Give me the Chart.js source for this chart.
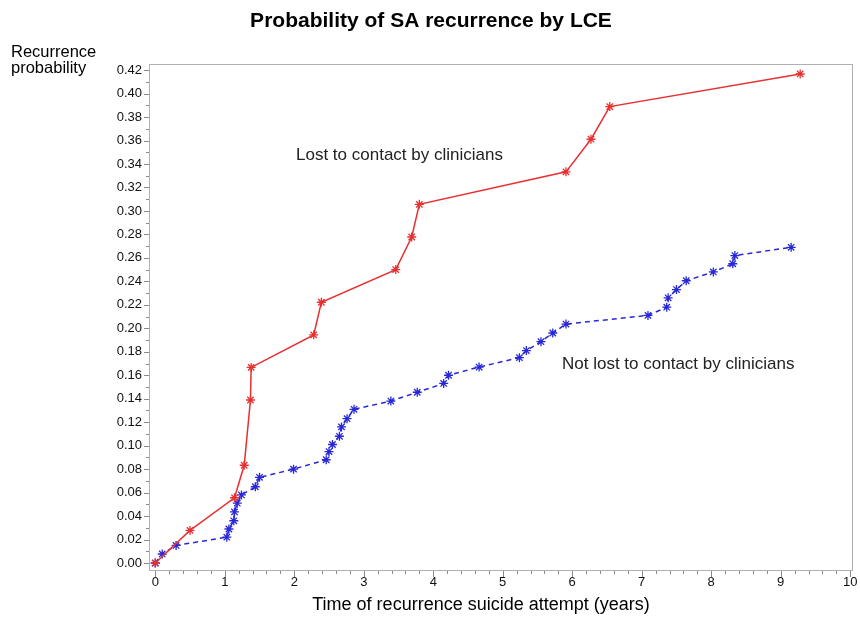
<!DOCTYPE html>
<html>
<head>
<meta charset="utf-8">
<title>Probability of SA recurrence by LCE</title>
<script src="https://cdn.jsdelivr.net/npm/chart.js@4/dist/chart.umd.min.js"></script>
<style>
	html, body { margin: 0; padding: 0; background: #fff; }
	#wrap { width: 860px; height: 636px; }
</style>
</head>
<body>
<div id="wrap"><canvas id="mycanvas"></canvas></div>
<script>
// time in years, probability of recurrence
var lostTime = [0, 0.50, 1.14, 1.28, 1.37, 1.38, 2.28, 2.39, 3.46, 3.69, 3.80, 5.91, 6.27, 6.54, 9.28];
var lostProb = [0, 0.0278, 0.0556, 0.0833, 0.1389, 0.1667, 0.1944, 0.2222, 0.2500, 0.2778, 0.3056, 0.3333, 0.3611, 0.3889, 0.4167];

var notLostTime = [0, 0.10, 0.30, 1.03, 1.06, 1.13, 1.14, 1.18, 1.24, 1.44, 1.50, 1.99, 2.46, 2.50, 2.55, 2.65, 2.68, 2.76, 2.86,
	3.39, 3.77, 4.15, 4.22, 4.66, 5.24, 5.34, 5.55, 5.72, 5.91, 7.09, 7.36, 7.38, 7.50, 7.64, 8.03, 8.31, 8.34, 9.15];
var notLostProb = [0, 0.0077, 0.015, 0.022, 0.029, 0.036, 0.0435, 0.051, 0.058, 0.065, 0.073, 0.080, 0.088, 0.095, 0.101, 0.108, 0.116, 0.123, 0.131,
	0.138, 0.1455, 0.153, 0.160, 0.167, 0.175, 0.181, 0.1886, 0.196, 0.2036, 0.211, 0.218, 0.226, 0.233, 0.2405, 0.248, 0.255, 0.262, 0.269];

var xTicks = [0, 1, 2, 3, 4, 5, 6, 7, 8, 9, 10];
var yTicks = [0, 0.02, 0.04, 0.06, 0.08, 0.10, 0.12, 0.14, 0.16, 0.18, 0.20, 0.22, 0.24, 0.26, 0.28, 0.30, 0.32, 0.34, 0.36, 0.38, 0.40, 0.42];

var toPoints = function(xs, ys) {
	var pts = [];
	for (var i in xs) {
		pts.push({x: xs[i], y: ys[i]});
	}
	return pts;
};

var FONT = "'Liberation Sans', Arial, sans-serif";

// frame, minor ticks and the text labels
var decor = {
	id: 'decor',
	afterDraw: function(chart) {
		var ctx = chart.ctx;
		var a = chart.chartArea;
		var xs = chart.scales.x;
		var ys = chart.scales.y;
		ctx.save();
		ctx.strokeStyle = '#b0b0b0';
		ctx.lineWidth = 1;
		ctx.strokeRect(a.left + 0.5, a.top + 0.5, a.right - a.left - 1, a.bottom - a.top - 1);

		ctx.strokeStyle = '#8a8a8a';
		ctx.beginPath();
		for (var k = 0; k <= 50; k++) {
			var px = Math.round(xs.getPixelForValue(k / 5)) + 0.5;
			var len = (k % 5 === 0) ? 6 : 3;
			ctx.moveTo(px, a.bottom);
			ctx.lineTo(px, a.bottom + len);
		}
		for (var j = 0; j <= 42; j++) {
			var py = Math.round(ys.getPixelForValue(j / 100)) + 0.5;
			var ylen = (j % 2 === 0) ? 5 : 3;
			ctx.moveTo(a.left, py);
			ctx.lineTo(a.left - ylen, py);
		}
		ctx.stroke();

		ctx.fillStyle = '#000';
		ctx.textBaseline = 'middle';
		ctx.textAlign = 'center';
		ctx.font = 'bold 21px ' + FONT;
		ctx.fillText('Probability of SA recurrence by LCE', 431, 21);

		ctx.font = '18px ' + FONT;
		ctx.fillText('Time of recurrence suicide attempt (years)', 481, 605);

		ctx.textAlign = 'left';
		ctx.font = '16.5px ' + FONT;
		ctx.fillText('Recurrence', 11, 52);
		ctx.fillText('probability', 11, 68);

		ctx.fillStyle = '#222';
		ctx.font = '17px ' + FONT;
		ctx.fillText('Lost to contact by clinicians', 296, 155);
		ctx.fillText('Not lost to contact by clinicians', 562, 364);
		ctx.restore();
	}
};

var chartdata = {
	datasets: [
		{
			label: 'Lost to contact by clinicians',
			data: toPoints(lostTime, lostProb),
			borderColor: 'rgba(232, 48, 48, 1)',
			backgroundColor: 'rgba(232, 48, 48, 1)',
			borderWidth: 1.5,
			pointStyle: 'star',
			pointRadius: 4.5,
			pointBorderWidth: 1.3,
			lineTension: 0
		},
		{
			label: 'Not lost to contact by clinicians',
			data: toPoints(notLostTime, notLostProb),
			borderColor: 'rgba(40, 40, 215, 1)',
			backgroundColor: 'rgba(40, 40, 215, 1)',
			borderWidth: 1.5,
			borderDash: [5, 4],
			pointStyle: 'star',
			pointRadius: 4.5,
			pointBorderWidth: 1.3,
			lineTension: 0
		}
	]
};

var ctx = document.getElementById('mycanvas');

var LineGraph = new Chart(ctx, {
	type: 'line',
	data: chartdata,
	plugins: [decor],
	options: {
		responsive: true,
		maintainAspectRatio: false,
		animation: false,
		layout: { padding: { left: 0, top: 64, right: 0, bottom: 0 } },
		plugins: {
			legend: { display: false },
			tooltip: { enabled: false }
		},
		scales: {
			x: {
				type: 'linear',
				min: -0.09,
				max: 10.04,
				afterBuildTicks: function(s) { s.ticks = xTicks.map(function(v) { return {value: v}; }); },
				afterFit: function(s) { s.height = 65; s.paddingRight = 7; },
				grid: { display: false, drawTicks: false },
				border: { display: false },
				ticks: {
					padding: 4,
					color: '#111',
					font: { family: FONT, size: 13 },
					maxRotation: 0,
					callback: function(v) { return String(v); }
				}
			},
			y: {
				type: 'linear',
				min: -0.0068,
				max: 0.4252,
				afterBuildTicks: function(s) { s.ticks = yTicks.map(function(v) { return {value: v}; }); },
				afterFit: function(s) { s.width = 149; },
				grid: { display: false, drawTicks: false },
				border: { display: false },
				ticks: {
					padding: 7,
					color: '#111',
					font: { family: FONT, size: 13 },
					callback: function(v) { return v.toFixed(2); }
				}
			}
		}
	}
});
</script>
</body>
</html>
